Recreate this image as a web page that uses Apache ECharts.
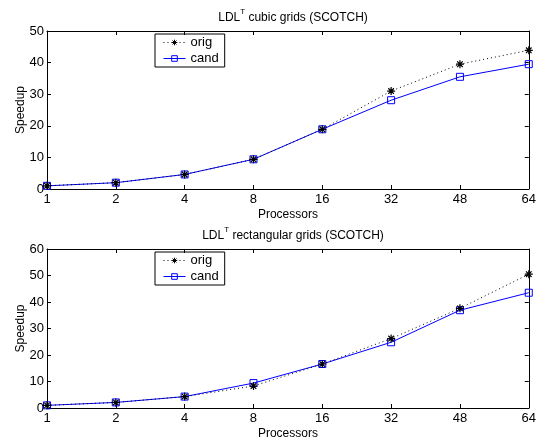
<!DOCTYPE html>
<html><head><meta charset="utf-8">
<script src="https://cdn.jsdelivr.net/npm/echarts@6/dist/echarts.min.js"></script>
<style>html,body{margin:0;padding:0;background:#fff}#c{width:539px;height:444px}</style>
</head><body><div id="c"></div>
<script>
const processors = ['1','2','4','8','16','32','48','64'];
const cubicOrig = [1.0, 2.0, 4.6, 9.4, 18.9, 31.0, 39.5, 43.9];
const cubicCand = [1.0, 2.0, 4.6, 9.4, 18.9, 28.1, 35.5, 39.5];
const rectOrig = [1.0, 2.1, 4.3, 8.3, 16.6, 26.2, 37.6, 50.5];
const rectCand = [1.0, 2.1, 4.3, 9.4, 16.6, 24.8, 36.9, 43.5];
const titles = ['cubic grids (SCOTCH)', 'rectangular grids (SCOTCH)'];
const yMax = [50, 60];

const FONT = 'Liberation Sans, Arial, sans-serif';
const star = 'path://M0,-5L0,5M-5,0L5,0M-3.5,-3.5L3.5,3.5M-3.5,3.5L3.5,-3.5';
const chart = echarts.init(document.getElementById('c'), null, {renderer: 'canvas'});

const grids = [
  {left: 47, right: 10, top: 31, height: 158},
  {left: 47, right: 10, top: 249, height: 159}
];
const xAxes = [], yAxes = [], series = [], titleArr = [], legends = [];
const lineStyleAx = {color: '#000', width: 1};
[0,1].forEach(g => {
  xAxes.push({
    gridIndex: g, type: 'category', data: processors, boundaryGap: false, position: 'bottom',
    name: 'Processors', nameLocation: 'middle', nameGap: 20, nameMoveOverlap: false,
    nameTextStyle: {fontFamily: FONT, fontSize: 12, color: '#000'},
    axisLine: {lineStyle: lineStyleAx, onZero: false},
    axisTick: {inside: true, length: 4, lineStyle: lineStyleAx},
    axisLabel: {fontFamily: FONT, fontSize: 13, color: '#000', margin: 4, showMinLabel: true, showMaxLabel: true},
    splitLine: {show: false}
  });
  xAxes.push({
    gridIndex: g, type: 'category', data: processors, boundaryGap: false, position: 'top',
    axisLine: {lineStyle: lineStyleAx, onZero: false},
    axisTick: {inside: true, length: 4, lineStyle: lineStyleAx},
    axisLabel: {show: false}, splitLine: {show: false}
  });
  yAxes.push({
    gridIndex: g, type: 'value', min: 0, max: yMax[g], interval: 10, position: 'left',
    name: 'Speedup', nameLocation: 'middle', nameGap: 20, nameRotate: 90, nameMoveOverlap: false,
    nameTextStyle: {fontFamily: FONT, fontSize: 12, color: '#000'},
    axisLine: {show: true, lineStyle: lineStyleAx},
    axisTick: {show: true, inside: true, length: 4, lineStyle: lineStyleAx},
    axisLabel: {fontFamily: FONT, fontSize: 13, color: '#000', margin: 3},
    splitLine: {show: false}
  });
  yAxes.push({
    gridIndex: g, type: 'value', min: 0, max: yMax[g], interval: 10, position: 'right',
    axisLine: {show: true, lineStyle: lineStyleAx},
    axisTick: {show: true, inside: true, length: 4, lineStyle: lineStyleAx},
    axisLabel: {show: false}, splitLine: {show: false}
  });
  titleArr.push({
    text: '{a|LDL}{s|T}{a| ' + titles[g] + '}',
    left: 288, textAlign: 'center', top: g === 0 ? 3 : 221,
    textStyle: {fontWeight: 'normal', rich: {
      a: {fontFamily: FONT, fontSize: 12, fontWeight: 'normal', color: '#000', verticalAlign: 'bottom', lineHeight: 16},
      s: {fontFamily: FONT, fontSize: 8, fontWeight: 'normal', color: '#000', verticalAlign: 'top', lineHeight: 16, padding: [0,0,6,0]}
    }}
  });
  const o = g === 0 ? cubicOrig : rectOrig;
  const c = g === 0 ? cubicCand : rectCand;
  series.push({
    name: 'orig', type: 'line', xAxisIndex: g*2, yAxisIndex: g*2, data: o,
    symbol: star, symbolSize: 8, showSymbol: true,
    lineStyle: {color: '#000', width: 1, type: [1, 3]},
    itemStyle: {color: '#000', borderColor: '#000', borderWidth: 1.2},
    emphasis: {disabled: true}, animation: false, z: 3
  });
  series.push({
    name: 'cand', type: 'line', xAxisIndex: g*2, yAxisIndex: g*2, data: c,
    symbol: 'rect', symbolSize: 7, showSymbol: true,
    lineStyle: {color: '#0000ff', width: 1},
    itemStyle: {color: 'rgba(0,0,0,0)', borderColor: '#0000ff', borderWidth: 1},
    emphasis: {disabled: true}, animation: false, z: 2
  });
  legends.push({
    left: 155, top: g === 0 ? 34 : 252, width: 72, orient: 'vertical',
    borderColor: '#000', borderWidth: 1, padding: [2, 6, 2, 8], itemGap: 3,
    itemWidth: 22, itemHeight: 7,
    lineStyle: {width: 1},
    itemStyle: {borderWidth: 1},
    textStyle: {fontFamily: FONT, fontSize: 13, color: '#000'},
    data: ['orig', 'cand'],
    selectedMode: false
  });
});

chart.setOption({
  animation: false,
  backgroundColor: '#fff',
  title: titleArr,
  grid: grids,
  xAxis: xAxes,
  yAxis: yAxes,
  legend: legends,
  series: series
});
</script></body></html>
